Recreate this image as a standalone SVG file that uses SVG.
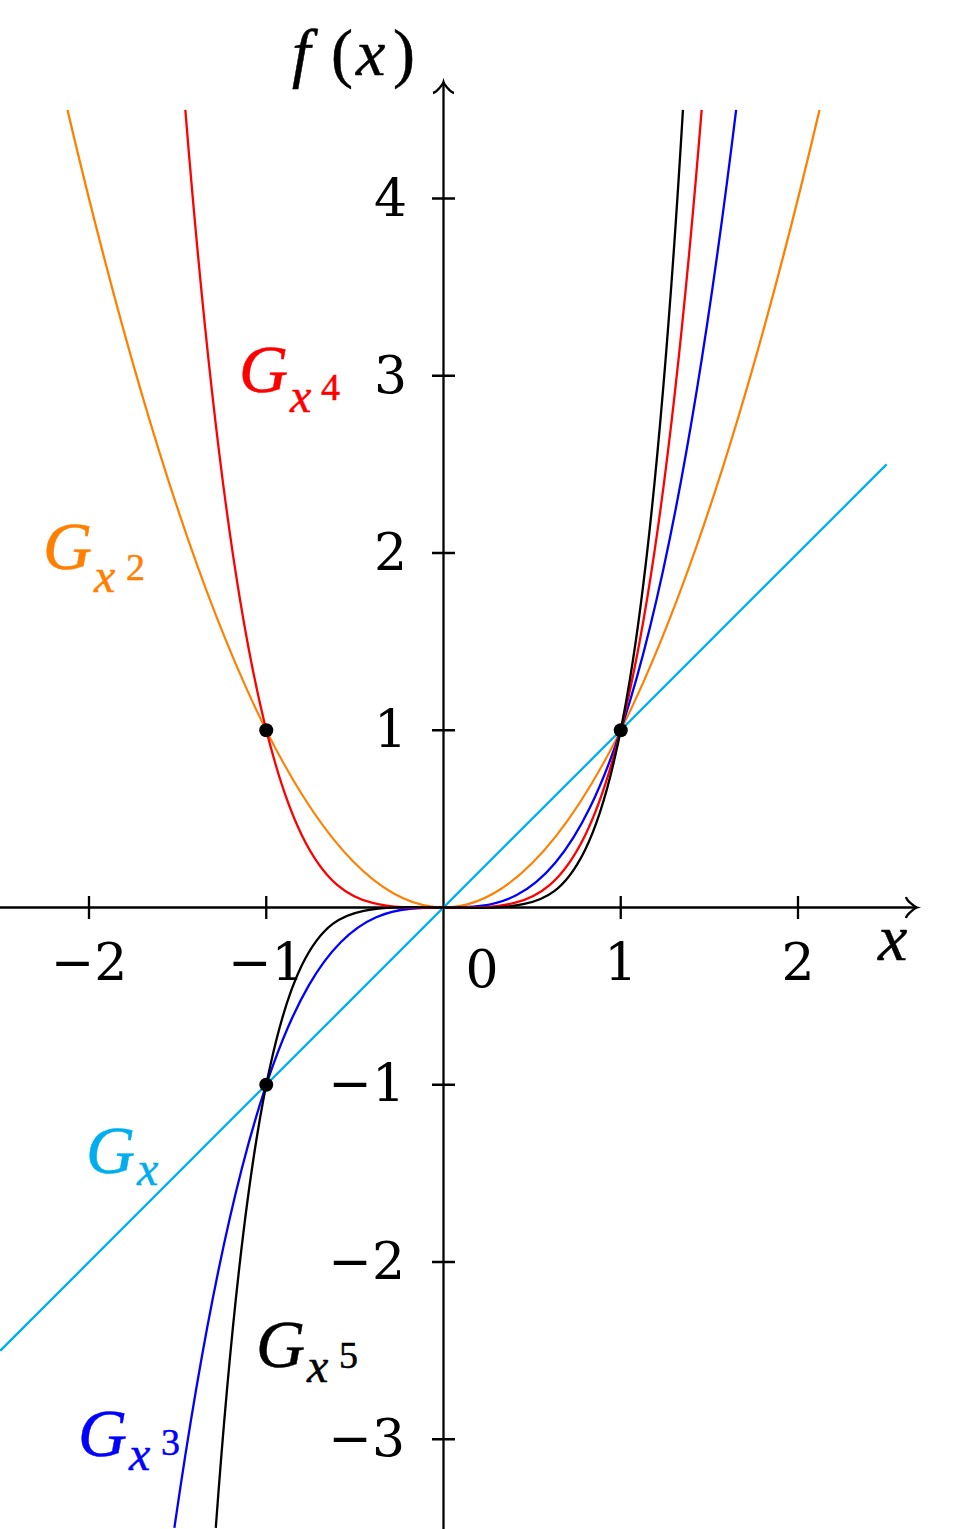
<svg xmlns="http://www.w3.org/2000/svg" width="963" height="1529" viewBox="0 0 963 1529">
<style>
.ax{fill:none;stroke:#000;stroke-width:2.3}
.cv{fill:none;stroke-width:2.3}
.num{font-family:'DejaVu Serif';font-size:52px;fill:#000}
.it{font-style:italic}
.G{font-size:68px}
.sb{font-size:48px}
.sp{font-size:38px}
.lab{stroke-width:0.5}
</style>
<rect width="963" height="1529" fill="#fff"/>
<g id="axes">
<path class="ax" d="M0,907.5 H916"/>
<path class="ax" d="M906,897 C906.7,900.9 914.7,906.84 917,907.5 C914.7,908.16 906.7,914.1 906,918"/>
<path class="ax" d="M443.5,1529 V83"/>
<path class="ax" d="M433,93 C436.9,92.3 442.84,84.3 443.5,82 C444.16,84.3 450.1,92.3 454,93"/>
<path class="ax" d="M89,896 V919 M266.25,896 V919 M620.75,896 V919 M798,896 V919"/>
<path class="ax" d="M432,198.5 H455 M432,375.75 H455 M432,553 H455 M432,730.25 H455 M432,1084.75 H455 M432,1262 H455 M432,1439.25 H455"/>
</g>
<g id="tick-labels" class="num">
<text x="89" y="980" text-anchor="middle">−2</text>
<text x="266.25" y="980" text-anchor="middle">−1</text>
<text x="482" y="987" text-anchor="middle">0</text>
<text x="620.75" y="980" text-anchor="middle">1</text>
<text x="798" y="980" text-anchor="middle">2</text>
<text x="407" y="216" text-anchor="end">4</text>
<text x="407" y="393" text-anchor="end">3</text>
<text x="407" y="570" text-anchor="end">2</text>
<text x="407" y="747" text-anchor="end">1</text>
<text x="405" y="1101" text-anchor="end">−1</text>
<text x="405" y="1279" text-anchor="end">−2</text>
<text x="405" y="1456" text-anchor="end">−3</text>
</g>
<g font-family="'Liberation Serif', serif">
<g id="axis-labels" font-size="66px" fill="#000" stroke="#000" class="lab">
<text class="it" x="878" y="960">x</text>
<text y="75"><tspan class="it" x="292">f</tspan><tspan x="331">(</tspan><tspan class="it" x="356">x</tspan><tspan x="393">)</tspan></text>
</g>
</g>
<g id="curves">
<path id="g-x" class="cv" stroke="#00AEEF" d="M0.375,1350.6 L886.6,464.4"/>
<path id="g-x2" class="cv" stroke="#FF8000" d="M67.5,109.9 Q443.5,1705.1 819.5,109.9"/>
<path id="g-x3" class="cv" stroke="#0000FF" d="M174.38,1527.9 C361.63,232.89 548.89,1641.12 736.14,109.87"/>
<path id="g-x4" class="cv" stroke="#FF0000" d="M185.33,109.82 C203.44,333.63 221.55,487.32 239.66,597.49 C260.34,723.29 281.02,792.55 301.7,834.9 C325.33,883.3 348.97,896.91 372.6,902.96 C396.23,909.01 419.87,907.5 443.5,907.5 C467.13,907.5 490.77,909.01 514.4,902.96 C538.03,896.91 561.67,883.3 585.3,834.9 C605.98,792.55 626.66,723.29 647.34,597.49 C665.45,487.32 683.56,333.63 701.67,109.82"/>
<path id="g-x5" class="cv" stroke="#000000" d="M215.78,1527.88 C229.65,1338.95 243.52,1218.01 257.39,1133.72 C272.16,1043.95 286.93,995.83 301.7,965.58 C322.38,923.23 343.06,915.01 363.74,910.77 C390.33,905.32 416.91,907.5 443.5,907.5 C470.09,907.5 496.67,909.68 523.26,904.23 C543.94,899.99 564.62,891.77 585.3,849.42 C600.07,819.17 614.84,771.05 629.61,681.28 C647.39,573.21 665.18,406.03 682.96,109.88"/>
</g>
<g id="points" fill="#000">
<circle cx="266.25" cy="730.25" r="7"/>
<circle cx="620.75" cy="730.25" r="7"/>
<circle cx="266.25" cy="1084.75" r="7"/>
</g>
<g font-family="'Liberation Serif', serif">
<g id="label-x4" fill="#FF0000" stroke="#FF0000" class="lab"><text><tspan class="it G" x="239" y="392">G</tspan><tspan class="it sb" x="290" y="412">x</tspan><tspan class="sp" x="321" y="400">4</tspan></text></g>
<g id="label-x2" fill="#FF8000" stroke="#FF8000" class="lab"><text><tspan class="it G" x="43" y="569">G</tspan><tspan class="it sb" x="94" y="592">x</tspan><tspan class="sp" x="126" y="580">2</tspan></text></g>
<g id="label-x" fill="#00AEEF" stroke="#00AEEF" class="lab"><text><tspan class="it G" x="86" y="1173">G</tspan><tspan class="it sb" x="137" y="1185">x</tspan></text></g>
<g id="label-x5" fill="#000000" stroke="#000000" class="lab"><text><tspan class="it G" x="256" y="1367">G</tspan><tspan class="it sb" x="307" y="1382">x</tspan><tspan class="sp" x="339" y="1368">5</tspan></text></g>
<g id="label-x3" fill="#0000FF" stroke="#0000FF" class="lab"><text><tspan class="it G" x="78" y="1456">G</tspan><tspan class="it sb" x="129" y="1470">x</tspan><tspan class="sp" x="161" y="1455">3</tspan></text></g>
</g>
</svg>
